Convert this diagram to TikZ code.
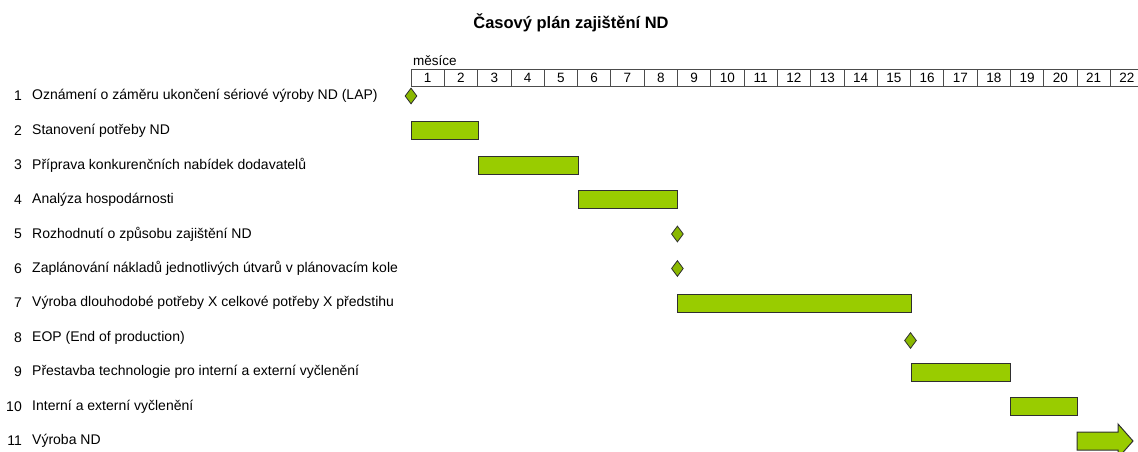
\documentclass[tikz,border=0pt]{standalone}
\usepackage{fontspec}
\setmainfont{Liberation Sans}
\usetikzlibrary{positioning}
\usetikzlibrary{shapes.geometric}
\definecolor{barGreen}{HTML}{99CC00}
\definecolor{barEdge}{HTML}{2F2F2F}

\begin{document}
\begin{tikzpicture}[x=1pt,y=-1pt,
			cell/.style={draw=black!70,line width=0.8pt,minimum width=33.3pt,
				minimum height=17pt,inner sep=0pt,font=\fontsize{13.5}{13.5}\selectfont},
			rownum/.style={anchor=east,inner sep=0pt,font=\fontsize{14}{14}\selectfont},
			rowtext/.style={anchor=west,inner sep=0pt,font=\fontsize{14}{14}\selectfont},
			taskbar/.style={draw=barEdge,fill=barGreen,line width=1pt,anchor=west,
				minimum height=18pt,inner sep=0pt},
			milestone/.style={diamond,draw=barEdge,fill=barGreen!90!black,line width=0.8pt,
				minimum width=12pt,minimum height=16pt,inner sep=0pt}]
			\useasboundingbox (0,0) rectangle (1138,452);
			\clip (0,0) rectangle (1138,452);
			
			\node[font=\bfseries\fontsize{16.5}{18}\selectfont] (title) at (571,23) {Časový plán zajištění ND};
			\node[anchor=west,inner sep=0pt,font=\fontsize{13.5}{14}\selectfont] (mesice) at (413,61) {měsíce};
			
			% months
			\foreach \m in {1,...,22}
				\node[cell] (m-\m) at ({411+(\m-0.5)*33.3},77.5) {\m};
			
			% tasks
			\foreach \n/\txt in {1/{Oznámení o záměru ukončení sériové výroby ND (LAP)},
				2/{Stanovení potřeby ND},
				3/{Příprava konkurenčních nabídek dodavatelů},
				4/{Analýza hospodárnosti},
				5/{Rozhodnutí o způsobu zajištění ND},
				6/{Zaplánování nákladů jednotlivých útvarů v plánovacím kole},
				7/{Výroba dlouhodobé potřeby X celkové potřeby X předstihu},
				8/{EOP (End of production)},
				9/{Přestavba technologie pro interní a externí vyčlenění},
				10/{Interní a externí vyčlenění},
				11/{Výroba ND}}
			{
				\node[rownum] (num-\n) at (22,{96+34.5*(\n-1)}) {\n};
				\node[rowtext] (task-\n) at (32,{96+34.5*(\n-1)}) {\txt};
			}
			
			% bars
			\foreach \r/\a/\b in {2/1/2, 3/3/5, 4/6/8, 7/9/15, 9/16/18, 10/19/20}
				\node[taskbar,minimum width={(\b-\a+1)*33.3pt}] (bar-\r) at ({411+(\a-1)*33.3},{96+34.5*(\r-1)}) {};
			
			% milestones
			\foreach \r/\a/\dy in {1/0/0, 5/8/0, 6/8/0, 8/15/3}
				\node[milestone] (ms-\r) at ({411+\a*33.3},{96+34.5*(\r-1)+\dy}) {};
			
			\draw[draw=barEdge,fill=barGreen,line width=1pt] (1077,432) -- (1118,432) -- (1118,424)
				-- (1133,441) -- (1118,458) -- (1118,450) -- (1077,450) -- cycle;
		\end{tikzpicture}
\end{document}
